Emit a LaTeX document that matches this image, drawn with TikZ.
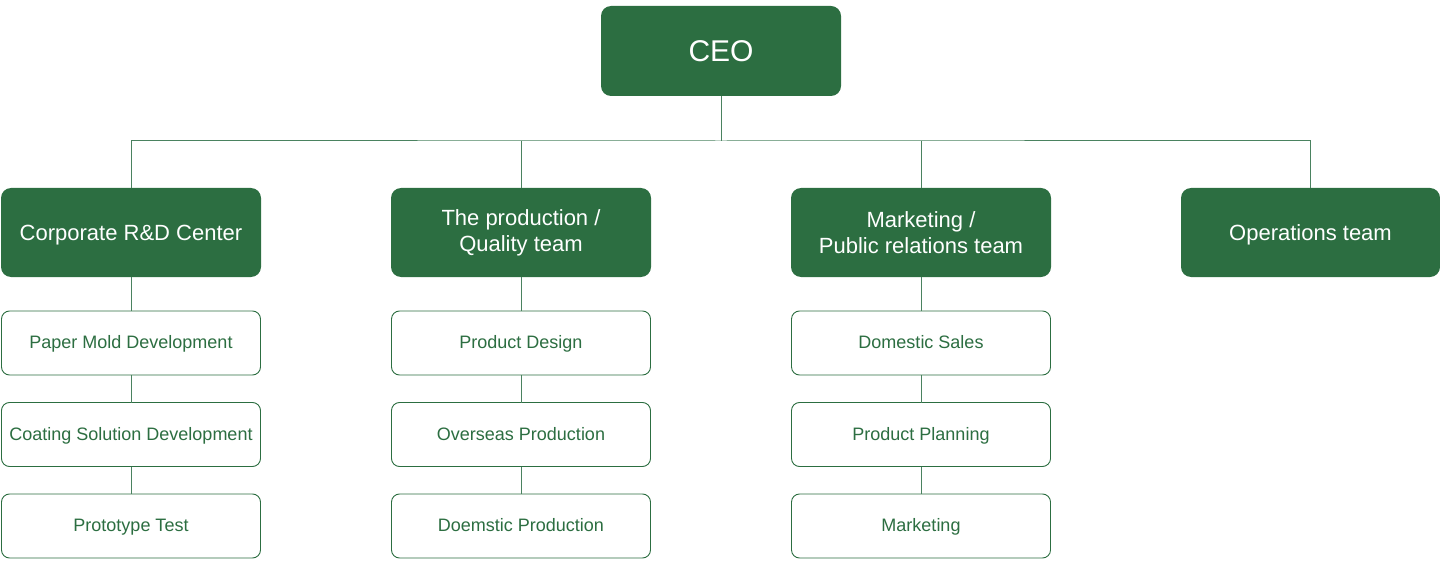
\documentclass[tikz,border=0pt]{standalone}
\usepackage{fontspec}
\setmainfont{Liberation Sans}
\begin{document}
\begin{tikzpicture}[x=1pt,y=-1pt,
  every node/.style={inner sep=0pt,outer sep=0pt},
  headbase/.style={fill=dg,draw=none,rounded corners=10pt,minimum width=260pt,minimum height=89pt,text=white,font=\fontsize{22}{26}\selectfont,align=center},
  head/.style={headbase,text height=15.8pt,text depth=0pt},
  ceobox/.style={headbase,minimum width=240pt,minimum height=90pt,font=\fontsize{30}{34}\selectfont,text height=21.5pt,text depth=0pt},
  sub/.style={fill=white,draw=dg,line width=0.9pt,rounded corners=8pt,minimum width=259pt,minimum height=64pt,text=dg,font=\fontsize{18}{21}\selectfont,text height=12.9pt,text depth=1pt},
  link/.style={draw=lg,line width=1pt}]
\definecolor{dg}{HTML}{2C6E41}
\definecolor{lg}{HTML}{4A8260}
\useasboundingbox (0,0) rectangle (1440,564);
\node[ceobox] (ceo) at (721,51) {CEO};
\node[head] (a) at (131,232.5) {Corporate R\&D Center};
\node[headbase] (b) at (521,232.5) {The production /\\Quality team};
\node[headbase] (c) at (921,232.5) {Marketing /\\Public relations team};
\node[head,minimum width=259pt] (d) at (1310.5,232.5) {Operations team};
\node[sub] (a1) at (131,343) {Paper Mold Development};
\node[sub] (a2) at (131,434.5) {Coating Solution Development};
\node[sub] (a3) at (131,526) {Prototype Test};
\node[sub] (b1) at (521,343) {Product Design};
\node[sub] (b2) at (521,434.5) {Overseas Production};
\node[sub] (b3) at (521,526) {Doemstic Production};
\node[sub] (c1) at (921,343) {Domestic Sales};
\node[sub] (c2) at (921,434.5) {Product Planning};
\node[sub] (c3) at (921,526) {Marketing};
\coordinate (bus) at (721,141);
\draw[link] (ceo.south) -- (bus);
\draw[link] (a.north) |- (bus) -| (d.north);
\draw[link] (b.north) -- (b.north |- bus);
\draw[link] (c.north) -- (c.north |- bus);
\foreach \p in {a,b,c}{
  \draw[link] (\p.south) -- (\p1.north);
  \draw[link] (\p1.south) -- (\p2.north);
  \draw[link] (\p2.south) -- (\p3.north);
}
\end{tikzpicture}
\end{document}
